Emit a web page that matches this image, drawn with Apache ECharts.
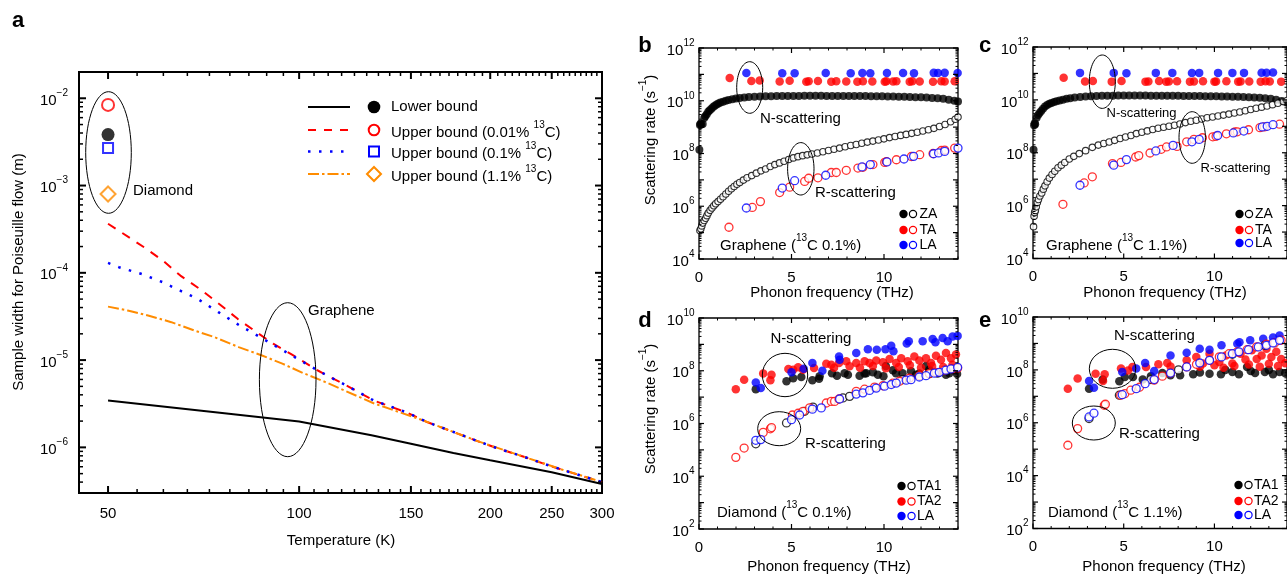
<!DOCTYPE html>
<html>
<head>
<meta charset="utf-8">
<title>Poiseuille flow width and phonon scattering rates</title>
<script src="https://cdn.jsdelivr.net/npm/echarts@6.0.0/dist/echarts.min.js"></script>
<style>
html,body{margin:0;padding:0;background:#ffffff;}
#chart{width:1287px;height:579px;}
</style>
</head>
<body>
<div id="chart"></div>
<script>
// ================= DATA =================
// ---- Panel a: sample width for Poiseuille flow (m) vs temperature (K) ----
const aLowerT = [50, 75, 100, 130, 150, 175, 200, 250, 300];
const aLowerW = [3.45e-6, 2.5e-6, 1.98e-6, 1.38e-6, 1.1e-6, 8.6e-7, 7.1e-7, 5.2e-7, 3.8e-7];
const aUp001T = [50, 57, 61, 65, 70, 75, 80, 85, 91, 97, 107, 120, 131, 148, 159, 173, 191, 205, 226, 249, 274, 300];
const aUp001W = [3.65e-4, 1.96e-4, 1.38e-4, 9.3e-5, 6.4e-5, 4.34e-5, 2.97e-5, 2.18e-5, 1.54e-5, 1.18e-5, 7.6e-6, 4.9e-6, 3.45e-6, 2.5e-6, 1.95e-6, 1.55e-6, 1.18e-6, 9.8e-7, 7.8e-7, 6.1e-7, 4.9e-7, 4.0e-7];
const aUp01T = [50, 52, 56.5, 61, 66, 69, 74.6, 80.6, 85, 91, 97, 107, 120, 131, 148, 159, 173, 191, 205, 226, 249, 274, 300];
const aUp01W = [1.3e-4, 1.16e-4, 9.7e-5, 7.8e-5, 5.9e-5, 5.1e-5, 3.54e-5, 2.49e-5, 2.0e-5, 1.5e-5, 1.15e-5, 7.6e-6, 4.9e-6, 3.45e-6, 2.5e-6, 1.95e-6, 1.55e-6, 1.18e-6, 9.8e-7, 7.8e-7, 6.1e-7, 4.9e-7, 4.0e-7];
const aUp11T = [50, 53.7, 57.8, 62.9, 68.4, 73.6, 80.3, 87.4, 94.1, 101.5, 110, 131, 157, 173, 191, 226, 260, 300];
const aUp11W = [4.1e-5, 3.7e-5, 3.24e-5, 2.72e-5, 2.18e-5, 1.83e-5, 1.41e-5, 1.13e-5, 9.1e-6, 7.1e-6, 5.6e-6, 3.2e-6, 2.03e-6, 1.55e-6, 1.18e-6, 7.8e-7, 5.55e-7, 4.0e-7];
const aDiamondT = 50;
const aDiamondLower = 3.84e-3;
const aDiamondUp001 = 8.4e-3;
const aDiamondUp01 = 2.7e-3;
const aDiamondUp11 = 8.0e-4;
const aXTickLabels = [50, 100, 150, 200, 250, 300];
const aYTickLabels = [1e-6, 1e-5, 1e-4, 1e-3, 1e-2];

// ---- Panel b: graphene 13C 0.1% ----
const bZA_N = [[0.02,1.4e8],[0.05,1.2e9],[0.08,1.35e9],[0.12,1.25e9],[0.2,1.3e9],[0.28,2.2e9],[0.34,2.6e9],[0.42,3.1e9],[0.5,3.8e9],[0.58,4.4e9],[0.67,5.0e9],[0.76,5.8e9],[0.85,6.5e9],[0.95,7.2e9],[1.05,7.9e9],[1.16,8.5e9],[1.3,9.2e9],[1.45,1.0e10],[1.6,1.07e10],[1.8,1.15e10],[2.0,1.22e10],[2.2,1.28e10],[2.45,1.33e10],[2.7,1.38e10],[3.0,1.42e10],[3.3,1.45e10],[3.6,1.47e10],[3.9,1.49e10],[4.2,1.5e10],[4.5,1.52e10],[4.8,1.52e10],[5.1,1.53e10],[5.4,1.53e10],[5.7,1.54e10],[6.0,1.54e10],[6.3,1.54e10],[6.6,1.54e10],[6.9,1.53e10],[7.2,1.53e10],[7.5,1.53e10],[7.8,1.52e10],[8.1,1.52e10],[8.4,1.51e10],[8.7,1.5e10],[9.0,1.5e10],[9.3,1.49e10],[9.6,1.48e10],[9.9,1.47e10],[10.2,1.46e10],[10.5,1.44e10],[10.8,1.43e10],[11.1,1.41e10],[11.4,1.39e10],[11.7,1.37e10],[12.0,1.35e10],[12.3,1.32e10],[12.6,1.28e10],[12.9,1.24e10],[13.2,1.18e10],[13.5,1.1e10],[13.8,1.0e10],[14.0,9.3e9]];
const bTA_N = [[1.66,7.3e10],[2.83,5.6e10],[3.28,5.8e10],[4.36,5.4e10],[4.9,5.7e10],[5.8,5.3e10],[5.93,5.5e10],[6.43,5.6e10],[7.15,5.3e10],[7.42,5.5e10],[7.96,5.4e10],[8.56,5.3e10],[8.86,5.5e10],[9.37,5.4e10],[10.04,5.3e10],[10.13,5.5e10],[10.49,5.4e10],[10.67,5.5e10],[11.39,5.3e10],[11.53,5.5e10],[11.93,5.4e10],[12.65,5.3e10],[13.1,5.5e10],[13.28,5.4e10],[13.82,5.5e10]];
const bLA_N = [[2.56,1.12e11],[4.5,1.1e11],[5.17,1.1e11],[6.85,1.12e11],[8.2,1.1e11],[8.83,1.12e11],[9.26,1.1e11],[10.16,1.12e11],[11.03,1.12e11],[11.62,1.1e11],[12.69,1.14e11],[12.92,1.12e11],[13.28,1.14e11],[13.98,1.12e11]];
const bZA_R = [[0.05,1.2e5],[0.1,1.4e5],[0.15,1.8e5],[0.2,2.3e5],[0.28,2.9e5],[0.36,3.5e5],[0.43,4.4e5],[0.5,5.5e5],[0.6,7.0e5],[0.7,8.6e5],[0.8,1.05e6],[0.9,1.25e6],[1.03,1.5e6],[1.16,1.85e6],[1.3,2.3e6],[1.45,2.9e6],[1.6,3.7e6],[1.75,4.6e6],[1.9,5.6e6],[2.05,6.8e6],[2.2,8.0e6],[2.4,9.8e6],[2.6,1.2e7],[2.85,1.45e7],[3.1,1.8e7],[3.35,2.2e7],[3.6,2.6e7],[3.85,3.2e7],[4.1,3.8e7],[4.35,4.4e7],[4.6,5.1e7],[4.85,5.9e7],[5.1,6.8e7],[5.35,7.6e7],[5.6,8.3e7],[5.85,8.9e7],[6.1,9.6e7],[6.4,1.05e8],[6.7,1.17e8],[7.0,1.3e8],[7.3,1.45e8],[7.6,1.6e8],[7.9,1.8e8],[8.2,2.0e8],[8.5,2.2e8],[8.8,2.45e8],[9.1,2.7e8],[9.4,2.95e8],[9.7,3.25e8],[10.0,3.6e8],[10.3,4.0e8],[10.6,4.4e8],[10.9,4.85e8],[11.2,5.3e8],[11.5,5.8e8],[11.8,6.4e8],[12.1,7.1e8],[12.4,8.0e8],[12.7,9.0e8],[13.0,1.05e9],[13.3,1.25e9],[13.6,1.6e9],[13.85,2.0e9],[14.0,2.4e9]];
const bTA_R = [[1.62,1.6e5],[2.88,9.0e5],[3.32,1.5e6],[4.36,3.3e6],[4.9,5.3e6],[5.71,8.7e6],[5.93,1.15e7],[6.43,1.2e7],[7.15,1.9e7],[7.42,1.9e7],[7.96,2.3e7],[8.59,2.8e7],[8.86,3.0e7],[9.4,3.8e7],[10.04,4.6e7],[10.13,4.9e7],[10.67,5.8e7],[11.48,7.7e7],[11.93,9.0e7],[12.65,1.0e8],[13.1,1.3e8],[13.28,1.35e8],[13.82,1.6e8]];
const bLA_R = [[2.56,8.6e5],[4.5,4.9e6],[5.17,9.3e6],[6.85,1.5e7],[8.81,3.1e7],[9.26,3.8e7],[10.16,4.8e7],[11.08,6.2e7],[11.6,7.8e7],[12.68,9.8e7],[12.95,1.05e8],[13.28,1.2e8],[14.0,1.6e8]];

// ---- Panel c: graphene 13C 1.1% ----
const cZA_N = [[0.03,1.3e8],[0.06,1.1e9],[0.09,1.3e9],[0.12,1.2e9],[0.2,2.1e9],[0.28,2.7e9],[0.36,3.2e9],[0.45,3.8e9],[0.55,4.6e9],[0.66,5.6e9],[0.78,6.4e9],[0.9,7.1e9],[1.02,7.7e9],[1.16,8.3e9],[1.3,8.9e9],[1.47,9.5e9],[1.65,1.02e10],[1.85,1.1e10],[2.05,1.16e10],[2.3,1.22e10],[2.6,1.28e10],[2.9,1.33e10],[3.2,1.37e10],[3.5,1.4e10],[3.8,1.42e10],[4.1,1.43e10],[4.4,1.44e10],[4.7,1.45e10],[5.0,1.45e10],[5.3,1.45e10],[5.6,1.45e10],[5.9,1.45e10],[6.2,1.45e10],[6.5,1.44e10],[6.8,1.44e10],[7.1,1.43e10],[7.4,1.43e10],[7.7,1.42e10],[8.0,1.42e10],[8.3,1.41e10],[8.6,1.4e10],[8.9,1.4e10],[9.2,1.39e10],[9.5,1.38e10],[9.8,1.37e10],[10.1,1.36e10],[10.4,1.35e10],[10.7,1.34e10],[11.0,1.32e10],[11.3,1.3e10],[11.6,1.28e10],[11.9,1.26e10],[12.2,1.23e10],[12.5,1.2e10],[12.8,1.16e10],[13.1,1.1e10],[13.4,1.02e10],[13.7,9.0e9],[14.0,8.0e9]];
const cTA_N = [[1.69,6.9e10],[2.87,5.0e10],[3.3,5.2e10],[4.34,4.9e10],[4.88,5.2e10],[6.2,4.9e10],[6.36,5.0e10],[6.95,5.2e10],[7.34,4.9e10],[7.49,5.0e10],[7.94,5.1e10],[8.65,4.9e10],[8.87,5.0e10],[9.37,5.1e10],[10.0,4.9e10],[10.09,5.0e10],[10.66,5.1e10],[11.31,4.9e10],[11.44,5.0e10],[11.92,5.0e10],[12.55,4.9e10],[12.82,5.1e10],[13.05,5.0e10],[13.68,4.9e10]];
const cLA_N = [[2.59,1.05e11],[4.45,1.05e11],[5.15,1.02e11],[6.77,1.05e11],[7.68,1.05e11],[8.76,1.03e11],[9.16,1.05e11],[10.2,1.05e11],[10.99,1.05e11],[11.63,1.05e11],[12.6,1.07e11],[12.87,1.07e11],[13.23,1.08e11]];
const cZA_R = [[0.03,1.6e5],[0.06,4.0e5],[0.09,5.5e5],[0.13,6.5e5],[0.18,9.0e5],[0.24,1.3e6],[0.3,1.7e6],[0.38,2.3e6],[0.48,3.0e6],[0.57,4.2e6],[0.66,5.6e6],[0.78,8.0e6],[0.9,1.1e7],[1.05,1.5e7],[1.2,2.0e7],[1.38,2.7e7],[1.56,3.4e7],[1.75,4.3e7],[2.0,5.8e7],[2.25,7.3e7],[2.55,9.3e7],[2.9,1.2e8],[3.27,1.6e8],[3.6,1.95e8],[3.9,2.25e8],[4.2,2.55e8],[4.5,2.95e8],[4.8,3.45e8],[5.1,3.95e8],[5.4,4.5e8],[5.7,5.3e8],[6.0,6.0e8],[6.3,6.7e8],[6.6,7.6e8],[6.9,8.5e8],[7.2,9.2e8],[7.5,1.0e9],[7.8,1.1e9],[8.1,1.22e9],[8.4,1.38e9],[8.7,1.55e9],[9.0,1.7e9],[9.3,1.9e9],[9.6,2.1e9],[9.9,2.25e9],[10.2,2.45e9],[10.5,2.65e9],[10.8,2.9e9],[11.1,3.2e9],[11.4,3.5e9],[11.7,3.9e9],[12.0,4.3e9],[12.3,4.8e9],[12.6,5.3e9],[12.9,5.9e9],[13.2,6.6e9],[13.5,7.5e9],[13.8,8.6e9],[14.0,9.5e9]];
const cTA_R = [[1.65,1.12e6],[2.82,7.2e6],[3.27,1.23e7],[4.38,3.9e7],[4.85,4.3e7],[5.66,6.9e7],[5.83,7.8e7],[6.45,9.8e7],[7.07,1.35e8],[7.36,1.66e8],[7.94,1.74e8],[8.47,2.6e8],[8.87,3.2e8],[9.34,3.7e8],[9.91,4.0e8],[10.09,4.2e8],[10.66,5.2e8],[11.13,6.2e8],[11.26,6.2e8],[11.88,7.4e8],[12.51,8.9e8],[12.75,9.5e8],[13.59,1.2e9]];
const cLA_R = [[2.59,5.9e6],[4.45,3.4e7],[5.15,5.5e7],[6.77,1.17e8],[7.72,1.9e8],[8.76,2.6e8],[9.16,3.2e8],[10.18,4.5e8],[11.04,5.6e8],[11.62,6.6e8],[12.64,9.5e8],[12.91,1.0e9],[13.23,1.15e9]];

// ---- Panel d: diamond 13C 0.1% ----
const dTA1_N = [[3.07,2.0e7],[4.73,4.0e7],[5.09,5.2e7],[5.53,5.8e7],[6.13,4.4e7],[6.49,5.0e7],[6.52,6.2e7],[7.19,8.1e7],[7.46,6.5e7],[7.87,8.1e7],[8.05,7.1e7],[8.68,6.5e7],[8.95,7.8e7],[9.04,8.1e7],[9.4,8.7e7],[9.67,7.1e7],[9.97,6.2e7],[10.1,1.5e8],[10.48,1.05e8],[10.65,8.1e7],[11.0,8.1e7],[11.46,9.5e7],[11.73,7.1e7],[11.91,7.8e7],[12.27,1.5e8],[12.45,1.1e8],[12.9,7.8e7],[13.35,7.1e7],[13.53,8.1e7],[13.8,1.05e8],[13.95,7.5e7]];
const dTA2_N = [[1.99,2.0e7],[2.44,4.6e7],[3.47,7.8e7],[3.86,4.4e7],[3.92,7.1e7],[4.83,1.17e8],[5.09,1.1e8],[5.36,1.35e8],[5.62,1.1e8],[6.22,1.26e8],[6.88,1.86e8],[7.15,1.7e8],[7.3,1.3e8],[7.57,1.95e8],[7.96,2.3e8],[8.14,1.48e8],[8.5,1.95e8],[8.7,1.3e8],[8.95,2.3e8],[9.22,1.95e8],[9.4,1.5e8],[9.58,2.45e8],[9.94,2.1e8],[10.1,1.25e8],[10.3,2.8e8],[10.66,1.95e8],[10.8,1.4e8],[10.93,3.0e8],[11.28,2.3e8],[11.4,1.6e8],[11.64,3.5e8],[11.91,2.45e8],[12.0,1.3e8],[12.27,3.0e8],[12.54,1.95e8],[12.6,1.5e8],[12.81,3.7e8],[13.08,2.6e8],[13.2,1.4e8],[13.35,4.7e8],[13.62,3.0e8],[13.7,1.7e8],[13.89,4.1e8]];
const dLA_N = [[3.07,3.6e7],[3.34,2.2e7],[5.0,8.7e7],[5.66,1.2e8],[6.13,1.95e8],[6.67,1.0e8],[7.57,3.5e8],[7.6,2.6e8],[8.5,4.7e8],[9.13,6.6e8],[9.61,6.3e8],[10.08,6.6e8],[10.39,8.9e8],[10.51,5.5e8],[11.23,1.07e9],[11.34,1.3e9],[12.09,1.3e9],[12.63,1.6e9],[12.78,1.2e9],[13.17,1.75e9],[13.44,1.3e9],[13.71,2.0e9],[13.98,2.1e9]];
const dTA1_R = [[3.07,1.7e5],[4.73,1.05e6],[5.71,2.9e6],[6.16,4.2e6],[7.78,9.3e6],[8.14,1.07e7],[11.0,4.6e7],[12.45,7.8e7]];
const dTA2_R = [[1.99,5.2e4],[2.44,1.17e5],[3.47,4.6e5],[3.86,6.3e5],[3.92,7.0e5],[5.05,2.1e6],[5.36,2.45e6],[5.62,2.9e6],[5.98,3.9e6],[6.88,6.0e6],[7.15,6.9e6],[7.33,6.9e6],[7.57,8.5e6],[8.5,1.66e7],[8.95,2.0e7],[9.49,2.4e7],[9.94,2.7e7],[10.48,3.4e7],[10.84,4.0e7],[11.37,5.2e7],[11.91,6.5e7],[12.45,7.8e7],[12.81,8.7e7],[13.26,1.05e8],[13.71,1.2e8],[13.98,1.26e8]];
const dLA_R = [[3.07,2.3e5],[3.34,2.45e5],[5.0,1.4e6],[5.44,2.1e6],[6.13,3.5e6],[6.61,3.9e6],[7.6,8.5e6],[8.5,1.3e7],[8.86,1.45e7],[9.22,1.8e7],[9.58,2.2e7],[10.03,2.6e7],[10.39,3.0e7],[10.66,3.4e7],[11.2,4.4e7],[11.46,4.6e7],[11.91,5.8e7],[12.27,6.5e7],[12.72,8.1e7],[12.99,8.7e7],[13.35,1.05e8],[13.62,1.17e8],[13.98,1.35e8]];

// ---- Panel e: diamond 13C 1.1% ----
const eTA1_N = [[3.09,1.95e7],[3.84,4.3e7],[4.76,3.7e7],[5.06,5.4e7],[5.51,5.4e7],[6.05,4.3e7],[6.5,5.8e7],[7.13,7.6e7],[7.58,6.2e7],[8.11,6.2e7],[8.83,6.8e7],[9.2,8.0e7],[9.73,7.2e7],[10.36,6.8e7],[10.6,1.0e8],[10.99,8.3e7],[11.35,6.8e7],[11.8,1.29e8],[12.0,9.0e7],[12.24,7.6e7],[12.78,8.3e7],[13.0,1.0e8],[13.23,6.8e7],[13.59,8.3e7],[13.9,7.5e7]];
const eTA2_N = [[1.92,1.95e7],[2.46,4.7e7],[3.45,7.2e7],[3.86,3.8e7],[3.95,6.8e7],[4.85,1.12e8],[5.24,9.5e7],[5.48,1.29e8],[6.23,1.29e8],[6.91,1.62e8],[7.4,1.82e8],[7.58,1.35e8],[8.47,2.3e8],[9.0,3.1e8],[9.2,1.3e8],[9.37,1.74e8],[9.73,4.1e8],[10.0,1.5e8],[10.27,2.0e8],[10.5,1.2e8],[10.63,3.5e8],[10.99,1.74e8],[11.1,1.4e8],[11.44,4.1e8],[11.71,2.45e8],[11.9,1.6e8],[12.06,5.5e8],[12.33,2.6e8],[12.5,1.3e8],[12.6,3.5e8],[12.87,6.3e8],[13.0,1.7e8],[13.14,3.1e8],[13.41,4.8e8],[13.5,1.4e8],[13.68,2.6e8],[13.9,1.8e8]];
const eLA_N = [[3.09,3.8e7],[3.36,2.1e7],[4.92,8.3e7],[5.69,1.12e8],[6.18,1.82e8],[6.68,9.1e7],[7.58,3.5e8],[8.47,4.4e8],[9.19,6.3e8],[9.73,5.8e8],[10.39,8.5e8],[11.26,9.8e8],[11.38,1.12e9],[11.97,1.32e9],[12.69,1.51e9],[13.23,1.66e9],[13.59,2.0e9]];
const eTA1_R = [[3.09,1.45e6],[4.76,1.1e7],[6.5,4.3e7],[8.02,1.0e8],[10.99,3.9e8],[12.78,8.5e8]];
const eTA2_R = [[1.92,1.41e5],[2.46,6.0e5],[3.93,4.6e6],[3.99,5.0e6],[4.83,1.1e7],[5.06,1.26e7],[5.39,1.7e7],[5.87,2.2e7],[6.68,4.1e7],[7.13,5.8e7],[7.58,7.6e7],[8.47,1.29e8],[9.01,1.62e8],[9.73,2.3e8],[10.27,3.1e8],[10.81,4.1e8],[11.26,4.8e8],[11.8,5.8e8],[12.33,7.4e8],[12.87,9.3e8],[13.32,1.05e9],[13.68,1.32e9]];
const eLA_R = [[3.09,1.66e6],[3.36,2.3e6],[4.92,1.15e7],[5.69,1.95e7],[6.18,3.0e7],[6.68,4.3e7],[7.58,7.6e7],[8.47,1.29e8],[9.19,1.82e8],[9.73,2.3e8],[10.39,3.1e8],[10.99,4.1e8],[11.35,4.8e8],[11.88,5.8e8],[12.42,7.4e8],[12.87,8.5e8],[13.23,1.05e9],[13.59,1.32e9]];

const freqTickLabels = [0, 5, 10];

// ================= STYLE / BUILD =================
const FONT = '"Liberation Sans", Arial, Helvetica, sans-serif';
const RED = '#ff0000', BLUE = '#0000ff', ORANGE = '#ff8c00', BLACK = '#000000';

function richSet(base, sup) {
  return {
    t: { fontSize: base, fontFamily: FONT, lineHeight: Math.round(base * 1.33), verticalAlign: 'bottom', fill: '#000', color: '#000' },
    s: { fontSize: sup, fontFamily: FONT, lineHeight: sup, verticalAlign: 'top', fill: '#000', color: '#000' }
  };
}
const RICH15 = richSet(15, 10);
const RICH13 = richSet(13, 9);

function pairs(xs, ys) { return xs.map(function (x, i) { return [x, ys[i]]; }); }
function supExp(e) { return e < 0 ? '\u2212' + (-e) : String(e); }

const grids = [], xAxes = [], yAxes = [], series = [];

function hiddenAxis(gi, cfg) {
  return {
    gridIndex: gi, type: cfg.type, min: cfg.min, max: cfg.max,
    axisLine: { show: false, onZero: false }, axisTick: { show: false },
    axisLabel: { show: false }, splitLine: { show: false },
    minorTick: { show: false }, minorSplitLine: { show: false }
  };
}
function addGrid(box, xCfg, yCfg, border) {
  const gi = grids.length;
  grids.push({ show: true, left: box.left, top: box.top, width: box.width, height: box.height,
    borderColor: '#000', borderWidth: border, backgroundColor: 'rgba(0,0,0,0)', containLabel: false });
  xAxes.push(hiddenAxis(gi, xCfg));
  yAxes.push(hiddenAxis(gi, yCfg));
  return gi;
}

function seg(x1, y1, x2, y2, w) {
  return { type: 'line', shape: { x1: x1, y1: y1, x2: x2, y2: y2 }, style: { stroke: '#000', lineWidth: w } };
}
function lbl(x, y, text, align, rich) {
  return { type: 'text', x: x, y: y, style: { text: text, rich: rich, align: align, textAlign: align,
    verticalAlign: 'middle', textVerticalAlign: 'middle', fill: '#000', fontFamily: FONT, fontSize: 15 } };
}

function addTicks(gi, spec) {
  const items = [];
  spec.xMajor.forEach(function (v) { items.push({ k: 'x', v: v, len: spec.majLen, lw: spec.majW, label: spec.xLabel(v) }); });
  spec.xMinor.forEach(function (v) { items.push({ k: 'x', v: v, len: spec.minLen, lw: spec.minW, label: null }); });
  spec.yMajor.forEach(function (v) { items.push({ k: 'y', v: v, len: spec.majLen, lw: spec.majW, label: spec.yLabel(v) }); });
  spec.yMinor.forEach(function (v) { items.push({ k: 'y', v: v, len: spec.minLen, lw: spec.minW, label: null }); });
  series.push({
    type: 'custom', xAxisIndex: gi, yAxisIndex: gi, clip: false, silent: true, z: 10,
    data: items.map(function (it) { return it.k === 'x' ? [it.v, spec.yRef] : [spec.xRef, it.v]; }),
    renderItem: function (params, api) {
      const it = items[params.dataIndex];
      const cs = params.coordSys;
      const kids = [];
      if (it.k === 'x') {
        const px = api.coord([it.v, spec.yRef])[0];
        const yb = cs.y + cs.height, yt = cs.y;
        kids.push(seg(px, yb, px, yb - it.len, it.lw), seg(px, yt, px, yt + it.len, it.lw));
        if (it.label) kids.push(lbl(px, yb + spec.xLabOff, it.label, 'center', RICH15));
      } else {
        const py = api.coord([spec.xRef, it.v])[1];
        const xl = cs.x, xr = cs.x + cs.width;
        kids.push(seg(xl, py, xl + it.len, py, it.lw), seg(xr, py, xr - it.len, py, it.lw));
        if (it.label) kids.push(lbl(xl - spec.yLabOff, py, it.label, 'right', RICH15));
      }
      return { type: 'group', children: kids };
    }
  });
}

function decadeMinors(eFrom, eTo, lo, hi) {
  const out = [];
  for (let e = eFrom; e <= eTo; e++) {
    for (let m = 2; m <= 9; m++) {
      const v = m * Math.pow(10, e);
      if (v > lo * 1.0001 && v < hi * 0.9999) out.push(v);
    }
  }
  return out;
}
function decades(eFrom, eTo) { const o = []; for (let e = eFrom; e <= eTo; e++) o.push(Math.pow(10, e)); return o; }
function expOf(v) { return Math.round(Math.log10(v)); }

// ---------- Panel a ----------
const gA = addGrid({ left: 79, top: 72, width: 523, height: 421 },
  { type: 'log', min: 45, max: 300 }, { type: 'log', min: 3e-7, max: 2e-2 }, 2);
(function () {
  const xMinor = [];
  [50, 100, 150, 200, 250].forEach(function (b) { for (let k = 1; k <= 8; k++) xMinor.push(b + k * 50 / 9); });
  addTicks(gA, {
    xMajor: aXTickLabels, xMinor: xMinor,
    yMajor: aYTickLabels, yMinor: decadeMinors(-7, -2, 3e-7, 2e-2),
    xLabel: function (v) { return '{t|' + v + '}'; },
    yLabel: function (v) { return '{t|10}{s|' + supExp(expOf(v)) + '}'; },
    xRef: 45, yRef: 3e-7, majLen: 7, minLen: 4, majW: 2, minW: 1.5, xLabOff: 18, yLabOff: 11
  });
})();
series.push({ name: 'Lower bound', type: 'line', xAxisIndex: gA, yAxisIndex: gA, data: pairs(aLowerT, aLowerW),
  showSymbol: false, symbol: 'none', lineStyle: { color: BLACK, width: 2 }, z: 3 });
series.push({ name: 'Upper bound (0.01% 13C)', type: 'line', xAxisIndex: gA, yAxisIndex: gA, data: pairs(aUp001T, aUp001W),
  showSymbol: false, symbol: 'none', lineStyle: { color: RED, width: 2, type: [9, 8] }, z: 3 });
series.push({ name: 'Upper bound (1.1% 13C)', type: 'line', xAxisIndex: gA, yAxisIndex: gA, data: pairs(aUp11T, aUp11W),
  showSymbol: false, symbol: 'none', lineStyle: { color: ORANGE, width: 2, type: [11, 3, 2.5, 3] }, z: 3 });
series.push({ name: 'Upper bound (0.1% 13C)', type: 'line', xAxisIndex: gA, yAxisIndex: gA, data: pairs(aUp01T, aUp01W),
  showSymbol: false, symbol: 'none', lineStyle: { color: BLUE, width: 2.5, type: [2.5, 8.5] }, z: 4 });
series.push({ name: 'Diamond lower bound', type: 'scatter', xAxisIndex: gA, yAxisIndex: gA, data: [[aDiamondT, aDiamondLower]],
  symbol: 'circle', symbolSize: 13, itemStyle: { color: BLACK }, z: 5 });
series.push({ name: 'Diamond upper 0.01%', type: 'scatter', xAxisIndex: gA, yAxisIndex: gA, data: [[aDiamondT, aDiamondUp001]],
  symbol: 'circle', symbolSize: 12, itemStyle: { color: '#fff', borderColor: RED, borderWidth: 2 }, z: 5 });
series.push({ name: 'Diamond upper 0.1%', type: 'scatter', xAxisIndex: gA, yAxisIndex: gA, data: [[aDiamondT, aDiamondUp01]],
  symbol: 'rect', symbolSize: 10, itemStyle: { color: '#fff', borderColor: BLUE, borderWidth: 2 }, z: 5 });
series.push({ name: 'Diamond upper 1.1%', type: 'scatter', xAxisIndex: gA, yAxisIndex: gA, data: [[aDiamondT, aDiamondUp11]],
  symbol: 'diamond', symbolSize: 15, itemStyle: { color: '#fff', borderColor: ORANGE, borderWidth: 2 }, z: 5 });

// ---------- Panels b-e ----------
function scatterPanel(gi, list) {
  list.forEach(function (s) {
    const open = s.open;
    series.push({
      name: s.name, type: 'scatter', xAxisIndex: gi, yAxisIndex: gi, data: s.data,
      symbol: 'circle', symbolSize: s.size || (open ? 8 : 8.5),
      itemStyle: open ? { color: '#fff', borderColor: s.color, borderWidth: s.bw || 1.3 } : { color: s.color },
      z: s.z || 3, silent: true
    });
  });
}
function freqPanel(box, yMinExp, yMaxExp) {
  const gi = addGrid(box, { type: 'value', min: 0, max: 14 },
    { type: 'log', min: Math.pow(10, yMinExp), max: Math.pow(10, yMaxExp) }, 1.3);
  addTicks(gi, {
    xMajor: [0, 5, 10], xMinor: [1, 2, 3, 4, 6, 7, 8, 9, 11, 12, 13, 14],
    yMajor: decades(yMinExp, yMaxExp), yMinor: decadeMinors(yMinExp, yMaxExp - 1, Math.pow(10, yMinExp), Math.pow(10, yMaxExp)),
    xLabel: function (v) { return freqTickLabels.indexOf(v) >= 0 ? '{t|' + v + '}' : null; },
    yLabel: function (v) { const e = expOf(v); return (e - yMinExp) % 2 === 0 ? '{t|10}{s|' + supExp(e) + '}' : null; },
    xRef: 0, yRef: Math.pow(10, yMinExp), majLen: 5, minLen: 2.5, majW: 1.2, minW: 1, xLabOff: 16, yLabOff: 4.5
  });
  return gi;
}

const gB = freqPanel({ left: 699, top: 48, width: 259, height: 211 }, 4, 12);
scatterPanel(gB, [
  { name: 'ZA N', data: bZA_N, color: BLACK, size: 8 },
  { name: 'TA N', data: bTA_N, color: RED },
  { name: 'LA N', data: bLA_N, color: BLUE },
  { name: 'ZA R', data: bZA_R, color: BLACK, open: true, size: 6.5, bw: 1.1 },
  { name: 'TA R', data: bTA_R, color: RED, open: true },
  { name: 'LA R', data: bLA_R, color: BLUE, open: true }
]);
const gC = freqPanel({ left: 1033, top: 47, width: 260, height: 211.5 }, 4, 12);
scatterPanel(gC, [
  { name: 'ZA N', data: cZA_N, color: BLACK, size: 8 },
  { name: 'TA N', data: cTA_N, color: RED },
  { name: 'LA N', data: cLA_N, color: BLUE },
  { name: 'ZA R', data: cZA_R, color: BLACK, open: true, size: 6.5, bw: 1.1 },
  { name: 'TA R', data: cTA_R, color: RED, open: true },
  { name: 'LA R', data: cLA_R, color: BLUE, open: true }
]);
const gD = freqPanel({ left: 699, top: 318, width: 259, height: 211 }, 2, 10);
scatterPanel(gD, [
  { name: 'TA1 N', data: dTA1_N, color: BLACK },
  { name: 'TA2 N', data: dTA2_N, color: RED },
  { name: 'LA N', data: dLA_N, color: BLUE },
  { name: 'TA1 R', data: dTA1_R, color: BLACK, open: true },
  { name: 'TA2 R', data: dTA2_R, color: RED, open: true },
  { name: 'LA R', data: dLA_R, color: BLUE, open: true }
]);
const gE = freqPanel({ left: 1033, top: 317, width: 260, height: 211.5 }, 2, 10);
scatterPanel(gE, [
  { name: 'TA1 N', data: eTA1_N, color: BLACK },
  { name: 'TA2 N', data: eTA2_N, color: RED },
  { name: 'LA N', data: eLA_N, color: BLUE },
  { name: 'TA1 R', data: eTA1_R, color: BLACK, open: true },
  { name: 'TA2 R', data: eTA2_R, color: RED, open: true },
  { name: 'LA R', data: eLA_R, color: BLUE, open: true }
]);

// ================= ANNOTATIONS (graphic) =================
const G = [];
function gText(x, y, text, o) {
  o = o || {};
  const size = o.size || 15;
  const rich = size <= 13 ? RICH13 : RICH15;
  G.push({ type: 'text', x: x, y: y, rotation: o.rotation || 0, z: 100,
    style: { text: text, rich: o.rich ? rich : null, align: o.align || 'left', textAlign: o.align || 'left',
      verticalAlign: 'middle', textVerticalAlign: 'middle', fill: '#000',
      fontFamily: FONT, fontSize: size, fontWeight: o.weight || 'normal' } });
}
function gEllipse(cx, cy, rx, ry) {
  G.push({ type: 'ellipse', shape: { cx: cx, cy: cy, rx: rx, ry: ry }, z: 90,
    style: { fill: null, stroke: '#000', lineWidth: 1 } });
}
function gLine(x1, y1, x2, y2, color, w, dash) {
  G.push({ type: 'line', shape: { x1: x1, y1: y1, x2: x2, y2: y2 }, z: 100,
    style: { stroke: color, lineWidth: w, lineDash: dash || null } });
}
function gDot(cx, cy, r, color, open, w) {
  G.push({ type: 'circle', shape: { cx: cx, cy: cy, r: r }, z: 100,
    style: open ? { fill: '#fff', stroke: color, lineWidth: w || 1.2 } : { fill: color } });
}

// panel letters
gText(18, 21, 'a', { size: 22, weight: 'bold', align: 'center' });
gText(645, 46, 'b', { size: 22, weight: 'bold', align: 'center' });
gText(985, 46, 'c', { size: 22, weight: 'bold', align: 'center' });
gText(645, 321, 'd', { size: 22, weight: 'bold', align: 'center' });
gText(985, 321, 'e', { size: 22, weight: 'bold', align: 'center' });

// axis titles
gText(19, 272, 'Sample width for Poiseuille flow (m)', { align: 'center', rotation: Math.PI / 2 });
gText(341, 541, 'Temperature (K)', { align: 'center' });
gText(648, 140, '{t|Scattering rate (s}{s|\u22121}{t|)}', { align: 'center', rotation: Math.PI / 2, rich: true });
gText(648, 409, '{t|Scattering rate (s}{s|\u22121}{t|)}', { align: 'center', rotation: Math.PI / 2, rich: true });
gText(832, 293, 'Phonon frequency (THz)', { align: 'center' });
gText(1165, 293, 'Phonon frequency (THz)', { align: 'center' });
gText(829, 567, 'Phonon frequency (THz)', { align: 'center' });
gText(1164, 567, 'Phonon frequency (THz)', { align: 'center' });

// panel a legend
const legRows = [107, 130, 151.5, 174];
gLine(308, legRows[0], 350, legRows[0], BLACK, 2);
gLine(308, legRows[1], 350, legRows[1], RED, 2, [8, 8]);
gLine(308, legRows[2], 350, legRows[2], BLUE, 2.5, [2.5, 8.5]);
gLine(308, legRows[3], 350, legRows[3], ORANGE, 2, [11, 3, 2.5, 3]);
gDot(374, legRows[0], 6.3, BLACK, false);
gDot(374, legRows[1], 5.3, RED, true, 2);
G.push({ type: 'rect', shape: { x: 369, y: legRows[2] - 5, width: 10, height: 10 }, z: 100,
  style: { fill: '#fff', stroke: BLUE, lineWidth: 2 } });
G.push({ type: 'polygon', shape: { points: [[374, legRows[3] - 7], [381, legRows[3]], [374, legRows[3] + 7], [367, legRows[3]]] }, z: 100,
  style: { fill: '#fff', stroke: ORANGE, lineWidth: 2 } });
gText(391, legRows[0], 'Lower bound');
gText(391, legRows[1], '{t|Upper bound (0.01% }{s|13}{t|C)}', { rich: true });
gText(391, legRows[2], '{t|Upper bound (0.1% }{s|13}{t|C)}', { rich: true });
gText(391, legRows[3], '{t|Upper bound (1.1% }{s|13}{t|C)}', { rich: true });

// panel a annotations
gEllipse(108.5, 152.5, 22.8, 60.8);
gText(133, 191, 'Diamond');
gEllipse(287.7, 379.7, 28.3, 77);
gText(308, 311, 'Graphene');

// panel b annotations
gEllipse(749.7, 87.5, 13, 25.8);
gEllipse(800.8, 168.8, 13.2, 26.2);
gText(760, 119, 'N-scattering');
gText(815, 193, 'R-scattering');
gText(720, 243, '{t|Graphene (}{s|13}{t|C 0.1%)}', { rich: true });
// panel c annotations
gEllipse(1102.3, 81.7, 13, 26.7);
gEllipse(1192.2, 137.5, 13.2, 25.8);
gText(1106.5, 113, 'N-scattering', { size: 13 });
gText(1200.5, 168, 'R-scattering', { size: 13 });
gText(1046, 243, '{t|Graphene (}{s|13}{t|C 1.1%)}', { rich: true });
// panel d annotations
gEllipse(785, 375, 22.7, 21.7);
gEllipse(779.2, 428.7, 21.5, 17);
gText(770.5, 339, 'N-scattering');
gText(805, 444, 'R-scattering');
gText(717, 510, '{t|Diamond (}{s|13}{t|C 0.1%)}', { rich: true });
// panel e annotations
gEllipse(1112.5, 368.8, 23.2, 19.5);
gEllipse(1093.8, 423, 21.5, 17);
gText(1114, 336, 'N-scattering');
gText(1119, 434, 'R-scattering');
gText(1048, 510, '{t|Diamond (}{s|13}{t|C 1.1%)}', { rich: true });

// small legends b-e
function smallLegend(xFill, xOpen, xText, rows, names) {
  const cols = [BLACK, RED, BLUE];
  rows.forEach(function (y, i) {
    gDot(xFill, y, 4.2, cols[i], false);
    gDot(xOpen, y, 3.6, cols[i], true, 1.2);
    gText(xText, y, names[i], { size: 14 });
  });
}
smallLegend(903.5, 913, 919.5, [214, 230, 245], ['ZA', 'TA', 'LA']);
smallLegend(1239.5, 1249, 1255, [214, 230, 243], ['ZA', 'TA', 'LA']);
smallLegend(901.5, 911.5, 917, [486, 501.5, 516], ['TA1', 'TA2', 'LA']);
smallLegend(1238.5, 1248.5, 1254, [485, 501, 515], ['TA1', 'TA2', 'LA']);

// ================= RENDER =================
const chart = echarts.init(document.getElementById('chart'), null, { renderer: 'canvas' });
chart.setOption({
  animation: false,
  backgroundColor: '#ffffff',
  textStyle: { fontFamily: FONT },
  grid: grids,
  xAxis: xAxes,
  yAxis: yAxes,
  series: series,
  graphic: { elements: G }
});
</script>
</body>
</html>
